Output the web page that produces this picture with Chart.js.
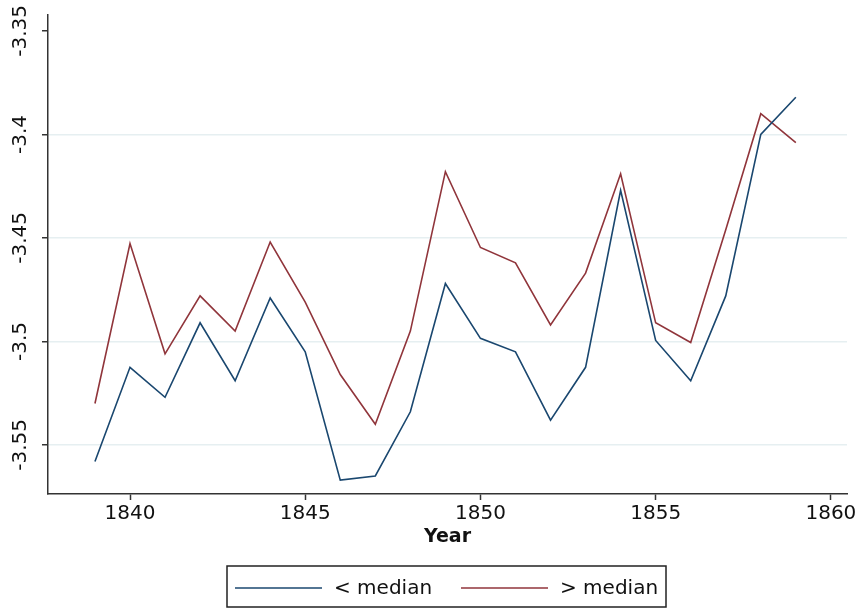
<!DOCTYPE html>
<html>
<head>
<meta charset="utf-8">
<script src="https://cdn.jsdelivr.net/npm/chart.js@4"></script>
<style>
	html, body { margin: 0; padding: 0; background: #fff; }
	#wrap { width: 860px; height: 608px; }
</style>
</head>
<body>
<div id="wrap"><canvas id="myChart" width="860" height="608"></canvas></div>
<script>
//setup
const years = [1839, 1840, 1841, 1842, 1843, 1844, 1845, 1846, 1847, 1848, 1849,
	1850, 1851, 1852, 1853, 1854, 1855, 1856, 1857, 1858, 1859];
const belowMedian = [-3.558, -3.5125, -3.527, -3.491, -3.519, -3.479, -3.505, -3.567, -3.565, -3.534, -3.472,
	-3.4985, -3.505, -3.538, -3.5125, -3.427, -3.4995, -3.519, -3.478, -3.4, -3.382];
const aboveMedian = [-3.53, -3.4527, -3.506, -3.478, -3.495, -3.452, -3.481, -3.516, -3.54, -3.495, -3.418,
	-3.4546, -3.462, -3.492, -3.467, -3.419, -3.491, -3.5005, -3.446, -3.39, -3.404];
const xTicks = [1840, 1845, 1850, 1855, 1860];
const yTicks = [-3.55, -3.5, -3.45, -3.4, -3.35];

const navy = "#1a476f";
const maroon = "#90353b";
const font = "DejaVu Sans";

const toPoints = (vals) => vals.map((v, i) => ({ x: years[i], y: v }));

const data = {
	datasets: [
		{
			label: "< median",
			data: toPoints(belowMedian),
			borderColor: navy,
			borderWidth: 1.6,
			pointRadius: 0,
			tension: 0,
		},
		{
			label: "> median",
			data: toPoints(aboveMedian),
			borderColor: maroon,
			borderWidth: 1.6,
			pointRadius: 0,
			tension: 0,
		},
	],
};

//legend box at the bottom, stata style
const boxLegend = {
	id: "boxLegend",
	afterDraw(chart) {
		const { ctx } = chart;
		ctx.save();
		ctx.strokeStyle = "#222";
		ctx.lineWidth = 1.5;
		ctx.strokeRect(227, 566, 439, 41);
		const items = [
			{ x: 235, color: navy, text: chart.data.datasets[0].label },
			{ x: 461, color: maroon, text: chart.data.datasets[1].label },
		];
		ctx.font = "20px '" + font + "'";
		ctx.textBaseline = "middle";
		items.forEach((it) => {
			ctx.beginPath();
			ctx.strokeStyle = it.color;
			ctx.lineWidth = 1.5;
			ctx.moveTo(it.x, 588);
			ctx.lineTo(it.x + 87, 588);
			ctx.stroke();
			ctx.fillStyle = "#111";
			ctx.fillText(it.text, it.x + 99, 589);
		});
		ctx.restore();
	},
};

//config
const config = {
	type: "line",
	data,
	options: {
		responsive: false,
		animation: false,
		layout: {
			padding: { top: 15, right: 13, left: 0, bottom: 60 },
		},
		scales: {
			x: {
				type: "linear",
				min: 1837.66,
				max: 1860.46,
				afterBuildTicks: (scale) => {
					scale.ticks = xTicks.map((v) => ({ value: v }));
				},
				afterFit: (scale) => {
					scale.height = 54;
				},
				border: { display: true, color: "#333", width: 1.5 },
				grid: {
					drawOnChartArea: false,
					drawTicks: true,
					tickLength: 6,
					tickColor: "#333",
					tickWidth: 1.5,
				},
				ticks: {
					color: "#111",
					padding: 2,
					maxRotation: 0,
					font: { family: font, size: 20 },
					callback: (v) => String(v),
				},
				title: {
					display: true,
					text: "Year",
					color: "#111",
					padding: { top: 0, bottom: 0 },
					font: { family: font, size: 19, weight: "bold" },
				},
			},
			y: {
				min: -3.5737,
				max: -3.3423,
				afterBuildTicks: (scale) => {
					scale.ticks = yTicks.map((v) => ({ value: v }));
				},
				afterFit: (scale) => {
					scale.width = 48;
				},
				border: { display: true, color: "#333", width: 1.5 },
				grid: {
					color: (c) => (c.tick && Math.abs(c.tick.value + 3.35) < 1e-6 ? "rgba(0,0,0,0)" : "#e6eff1"),
					lineWidth: 1.5,
					drawTicks: true,
					tickLength: 6,
					tickColor: "#333",
					tickWidth: 1.5,
				},
				ticks: {
					color: "#111",
					padding: -5,
					minRotation: 90,
					maxRotation: 90,
					crossAlign: "center",
					font: { family: font, size: 20 },
					callback: (v) => String(+v.toFixed(2)),
				},
			},
		},
		plugins: {
			legend: { display: false },
			tooltip: { enabled: false },
		},
	},
	plugins: [boxLegend],
};

//render init
const myChart = new Chart(document.getElementById("myChart"), config);
</script>
</body>
</html>
